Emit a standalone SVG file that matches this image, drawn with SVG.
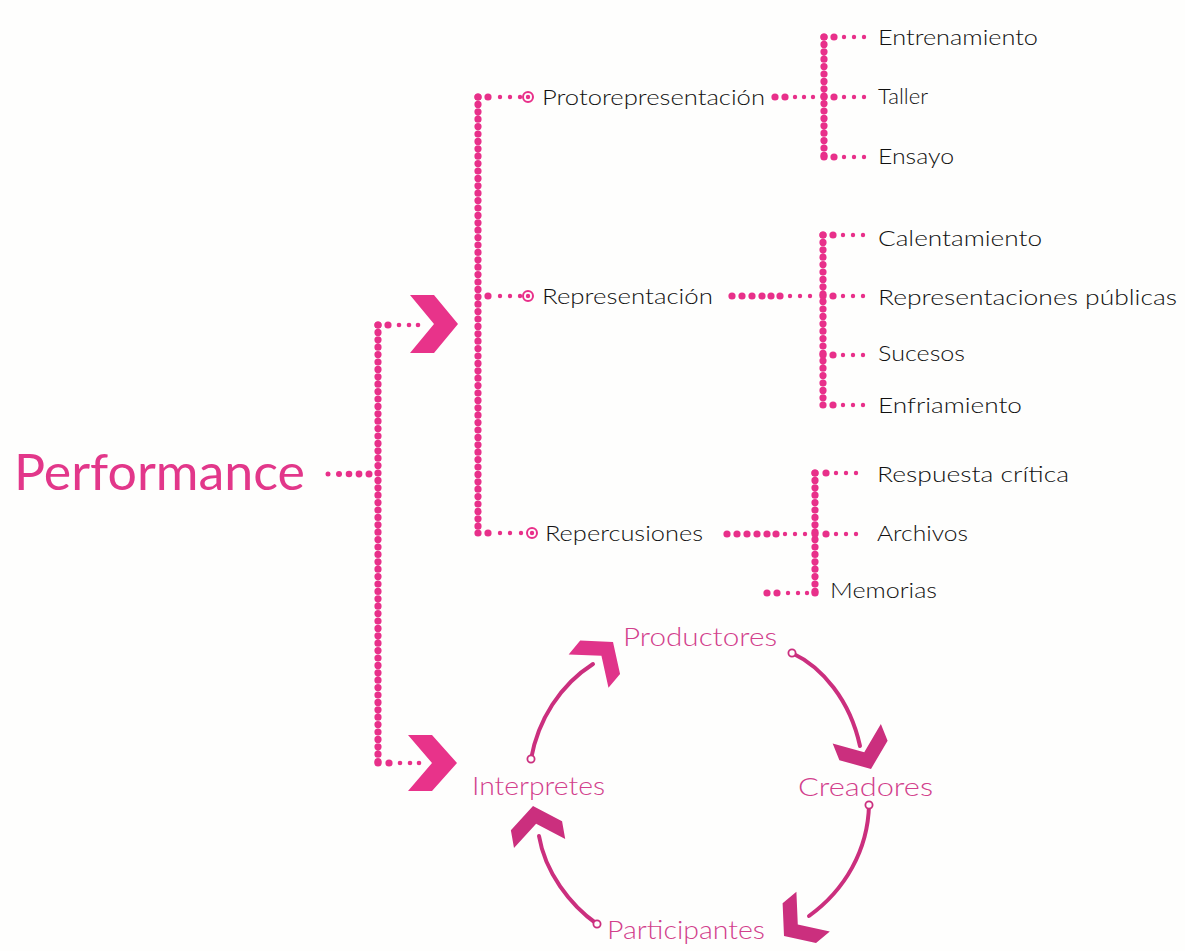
<svg xmlns="http://www.w3.org/2000/svg" width="1185" height="951" viewBox="0 0 1185 951">
  <defs>
    <style>
      .bg { fill: #fefefd; }
      .vline { fill: none; stroke: #e8308a; stroke-width: 7.2; stroke-linecap: round; stroke-dasharray: 0 7.4; }
      .big { fill: #e8308a; }
      .sm { fill: #e8308a; }
      .ring { fill: none; stroke: #e8308a; stroke-width: 2; }
      .chev { fill: #e8338a; }
      .head { fill: #cb2f7e; }
      .curve { fill: none; stroke: #cb2f7e; stroke-width: 4; stroke-linecap: round; }
      .tail { fill: #fefefd; stroke: #cb2f7e; stroke-width: 1.8; }
      .lbl { font-family: Lato, "Liberation Sans", sans-serif; font-weight: 300; fill: #111111; font-size: 22px; }
      .cyc { font-family: Lato, "Liberation Sans", sans-serif; font-weight: 300; fill: #d2408c; font-size: 25px; }
      .title { font-family: Lato, "Liberation Sans", sans-serif; font-weight: 400; fill: #e2378a; font-size: 50px; }
    </style>
    <!-- heavy chevron used on the cycle arrows; tip at origin, pointing +x -->
    <path id="cyc-head" d="M-38,-26 L-20,-26 L0,0 L-20,26 L-38,26 L-18,0 Z"/>
  </defs>

  <rect class="bg" x="0" y="0" width="1185" height="951"/>

  <!-- dotted tree connectors -->
  <g id="connectors">
    <!-- trunk from Performance -->
    <circle class="sm" cx="328" cy="474" r="2.5"/>
    <circle class="sm" cx="339" cy="474" r="3"/>
    <circle class="big" cx="349" cy="474" r="3.3"/>
    <circle class="big" cx="359" cy="474" r="3.4"/>
    <circle class="big" cx="369" cy="474" r="3.5"/>
    <path class="vline" d="M378,325 V763"/>
    <circle class="big" cx="378" cy="325" r="3.6"/>
    <circle class="big" cx="378" cy="763" r="3.6"/>
    <circle class="big" cx="388" cy="325" r="3.6"/>
    <circle class="sm" cx="399" cy="325" r="2.3"/>
    <circle class="sm" cx="409" cy="325" r="2.3"/>
    <circle class="sm" cx="418" cy="325" r="2.3"/>
    <circle class="big" cx="389" cy="763" r="3.6"/>
    <circle class="sm" cx="400" cy="763" r="2.3"/>
    <circle class="sm" cx="410" cy="763" r="2.3"/>
    <circle class="sm" cx="419" cy="763" r="2.3"/>

    <!-- stage spine -->
    <path class="vline" d="M478,97 V533"/>
    <circle class="big" cx="478" cy="97" r="3.6"/>
    <circle class="big" cx="478" cy="533" r="3.6"/>
    <circle class="big" cx="488" cy="97" r="3.6"/>
    <circle class="sm" cx="500" cy="97" r="2.2"/>
    <circle class="sm" cx="510" cy="97" r="2.2"/>
    <circle class="sm" cx="520" cy="97" r="2.2"/>
    <circle class="big" cx="488" cy="296" r="3.6"/>
    <circle class="sm" cx="500" cy="296" r="2.2"/>
    <circle class="sm" cx="510" cy="296" r="2.2"/>
    <circle class="sm" cx="520" cy="296" r="2.2"/>
    <circle class="big" cx="488" cy="533" r="3.6"/>
    <circle class="sm" cx="500" cy="533" r="2.2"/>
    <circle class="sm" cx="510" cy="533" r="2.2"/>
    <circle class="sm" cx="521" cy="533" r="2.2"/>

    <!-- Protorepresentación sub-branch -->
    <circle class="big" cx="775" cy="97" r="3.6"/>
    <circle class="big" cx="785" cy="97" r="3.6"/>
    <circle class="sm" cx="795" cy="97" r="2.2"/>
    <circle class="sm" cx="804" cy="97" r="2.2"/>
    <circle class="sm" cx="813" cy="97" r="2.2"/>
    <path class="vline" d="M824,37 V157"/>
    <circle class="big" cx="824" cy="37" r="3.6"/>
    <circle class="big" cx="824" cy="97" r="3.6"/>
    <circle class="big" cx="824" cy="157" r="3.6"/>
    <circle class="big" cx="834" cy="37" r="3.6"/>
    <circle class="sm" cx="844" cy="37" r="2.2"/>
    <circle class="sm" cx="854" cy="37" r="2.2"/>
    <circle class="sm" cx="864" cy="37" r="2.2"/>
    <circle class="big" cx="834" cy="97" r="3.6"/>
    <circle class="sm" cx="844" cy="97" r="2.2"/>
    <circle class="sm" cx="854" cy="97" r="2.2"/>
    <circle class="sm" cx="864" cy="97" r="2.2"/>
    <circle class="big" cx="834" cy="157" r="3.6"/>
    <circle class="sm" cx="844" cy="157" r="2.2"/>
    <circle class="sm" cx="854" cy="157" r="2.2"/>
    <circle class="sm" cx="864" cy="157" r="2.2"/>

    <!-- Representación sub-branch -->
    <circle class="big" cx="732" cy="296" r="3.6"/>
    <circle class="big" cx="742" cy="296" r="3.6"/>
    <circle class="big" cx="752" cy="296" r="3.6"/>
    <circle class="big" cx="762" cy="296" r="3.6"/>
    <circle class="big" cx="771" cy="296" r="3.6"/>
    <circle class="big" cx="780" cy="296" r="3.6"/>
    <circle class="sm" cx="790" cy="296" r="2.2"/>
    <circle class="sm" cx="800" cy="296" r="2.2"/>
    <circle class="sm" cx="810" cy="296" r="2.2"/>
    <path class="vline" d="M823,235 V405"/>
    <circle class="big" cx="823" cy="235" r="3.6"/>
    <circle class="big" cx="823" cy="296" r="3.6"/>
    <circle class="big" cx="823" cy="355" r="3.6"/>
    <circle class="big" cx="823" cy="405" r="3.6"/>
    <circle class="big" cx="833" cy="235" r="3.6"/>
    <circle class="sm" cx="843" cy="235" r="2.2"/>
    <circle class="sm" cx="853" cy="235" r="2.2"/>
    <circle class="sm" cx="863" cy="235" r="2.2"/>
    <circle class="big" cx="833" cy="296" r="3.6"/>
    <circle class="sm" cx="843" cy="296" r="2.2"/>
    <circle class="sm" cx="853" cy="296" r="2.2"/>
    <circle class="sm" cx="863" cy="296" r="2.2"/>
    <circle class="big" cx="833" cy="355" r="3.6"/>
    <circle class="sm" cx="843" cy="355" r="2.2"/>
    <circle class="sm" cx="853" cy="355" r="2.2"/>
    <circle class="sm" cx="863" cy="355" r="2.2"/>
    <circle class="big" cx="833" cy="405" r="3.6"/>
    <circle class="sm" cx="843" cy="405" r="2.2"/>
    <circle class="sm" cx="853" cy="405" r="2.2"/>
    <circle class="sm" cx="863" cy="405" r="2.2"/>

    <!-- Repercusiones sub-branch -->
    <circle class="big" cx="727" cy="534" r="3.6"/>
    <circle class="big" cx="737" cy="534" r="3.6"/>
    <circle class="big" cx="747" cy="534" r="3.6"/>
    <circle class="big" cx="757" cy="534" r="3.6"/>
    <circle class="big" cx="767" cy="534" r="3.6"/>
    <circle class="big" cx="776" cy="534" r="3.6"/>
    <circle class="sm" cx="785" cy="534" r="2.2"/>
    <circle class="sm" cx="795" cy="534" r="2.2"/>
    <circle class="sm" cx="805" cy="534" r="2.2"/>
    <path class="vline" d="M815,473 V593"/>
    <circle class="big" cx="815" cy="473" r="3.6"/>
    <circle class="big" cx="815" cy="534" r="3.6"/>
    <circle class="big" cx="815" cy="593" r="3.6"/>
    <circle class="big" cx="826" cy="473" r="3.6"/>
    <circle class="sm" cx="836" cy="473" r="2.2"/>
    <circle class="sm" cx="846" cy="473" r="2.2"/>
    <circle class="sm" cx="856" cy="473" r="2.2"/>
    <circle class="big" cx="826" cy="534" r="3.6"/>
    <circle class="sm" cx="836" cy="534" r="2.2"/>
    <circle class="sm" cx="846" cy="534" r="2.2"/>
    <circle class="sm" cx="856" cy="534" r="2.2"/>
    <circle class="big" cx="767" cy="593" r="3.6"/>
    <circle class="big" cx="777" cy="593" r="3.6"/>
    <circle class="sm" cx="788" cy="593" r="2.2"/>
    <circle class="sm" cx="798" cy="593" r="2.2"/>
    <circle class="sm" cx="807" cy="593" r="2.2"/>

    <!-- big chevrons on the trunk -->
    <polygon class="chev" points="410,295 434,295 458,324 434,353 410,353 434,324"/>
    <polygon class="chev" points="408,735 432,735 457,763 432,791 408,791 432,763"/>

    <!-- cycle arrows -->
    <path class="curve" d="M531,759 C538,720 560,685 593,664"/>
    <circle class="tail" cx="531" cy="759" r="3.6"/>
    <use href="#cyc-head" class="head" style="fill:#e0348a" transform="translate(613,642) rotate(-50)"/>

    <path class="curve" d="M792,653 C822,667 850,700 860,746"/>
    <circle class="tail" cx="792" cy="653" r="3.6"/>
    <use href="#cyc-head" class="head" transform="translate(871,769) rotate(68)"/>

    <path class="curve" d="M869,805 C868,850 845,890 809,916"/>
    <circle class="tail" cx="869" cy="805" r="3.6"/>
    <use href="#cyc-head" class="head" transform="translate(784,936) rotate(140)"/>

    <path class="curve" d="M597,924 C570,905 545,872 539,836"/>
    <circle class="tail" cx="597" cy="924" r="3.6"/>
    <use href="#cyc-head" class="head" transform="translate(533,806) rotate(-100)"/>
  </g>

  <!-- root -->
  <g id="performance">
    <text class="title" x="14" y="490" textLength="291" lengthAdjust="spacingAndGlyphs">Performance</text>
  </g>

  <!-- stages -->
  <g id="protorepresentacion">
    <circle class="ring" cx="528" cy="97" r="5"/>
    <circle class="big" cx="528" cy="97" r="2.2"/>
    <text class="lbl" x="542" y="105" font-size="23" textLength="223" lengthAdjust="spacingAndGlyphs">Protorepresentación</text>
  </g>
  <g id="representacion">
    <circle class="ring" cx="528" cy="296" r="5"/>
    <circle class="big" cx="528" cy="296" r="2.2"/>
    <text class="lbl" x="542" y="304" font-size="23" textLength="171" lengthAdjust="spacingAndGlyphs">Representación</text>
  </g>
  <g id="repercusiones">
    <circle class="ring" cx="532" cy="533" r="5"/>
    <circle class="big" cx="532" cy="533" r="2.2"/>
    <text class="lbl" x="545" y="541" font-size="23" textLength="158" lengthAdjust="spacingAndGlyphs">Repercusiones</text>
  </g>

  <!-- leaves -->
  <g id="entrenamiento"><text class="lbl" x="878" y="45" textLength="160" lengthAdjust="spacingAndGlyphs">Entrenamiento</text></g>
  <g id="taller"><text class="lbl" x="878" y="104" textLength="50" lengthAdjust="spacingAndGlyphs">Taller</text></g>
  <g id="ensayo"><text class="lbl" x="878" y="164" textLength="76" lengthAdjust="spacingAndGlyphs">Ensayo</text></g>
  <g id="calentamiento"><text class="lbl" x="878" y="246" textLength="164" lengthAdjust="spacingAndGlyphs">Calentamiento</text></g>
  <g id="representaciones-publicas"><text class="lbl" x="878" y="305" textLength="299" lengthAdjust="spacingAndGlyphs">Representaciones públicas</text></g>
  <g id="sucesos"><text class="lbl" x="878" y="361" textLength="87" lengthAdjust="spacingAndGlyphs">Sucesos</text></g>
  <g id="enfriamiento"><text class="lbl" x="878" y="413" textLength="144" lengthAdjust="spacingAndGlyphs">Enfriamiento</text></g>
  <g id="respuesta-critica"><text class="lbl" x="877" y="482" textLength="192" lengthAdjust="spacingAndGlyphs">Respuesta crítica</text></g>
  <g id="archivos"><text class="lbl" x="877" y="541" textLength="91" lengthAdjust="spacingAndGlyphs">Archivos</text></g>
  <g id="memorias"><text class="lbl" x="830" y="598" textLength="107" lengthAdjust="spacingAndGlyphs">Memorias</text></g>

  <!-- cycle of roles -->
  <g id="productores"><text class="cyc" x="623" y="646" textLength="154" lengthAdjust="spacingAndGlyphs">Productores</text></g>
  <g id="creadores"><text class="cyc" x="798" y="796" textLength="135" lengthAdjust="spacingAndGlyphs">Creadores</text></g>
  <g id="interpretes"><text class="cyc" x="472" y="795" textLength="133" lengthAdjust="spacingAndGlyphs">Interpretes</text></g>
  <g id="participantes"><text class="cyc" x="607" y="939" textLength="158" lengthAdjust="spacingAndGlyphs">Participantes</text></g>
</svg>
